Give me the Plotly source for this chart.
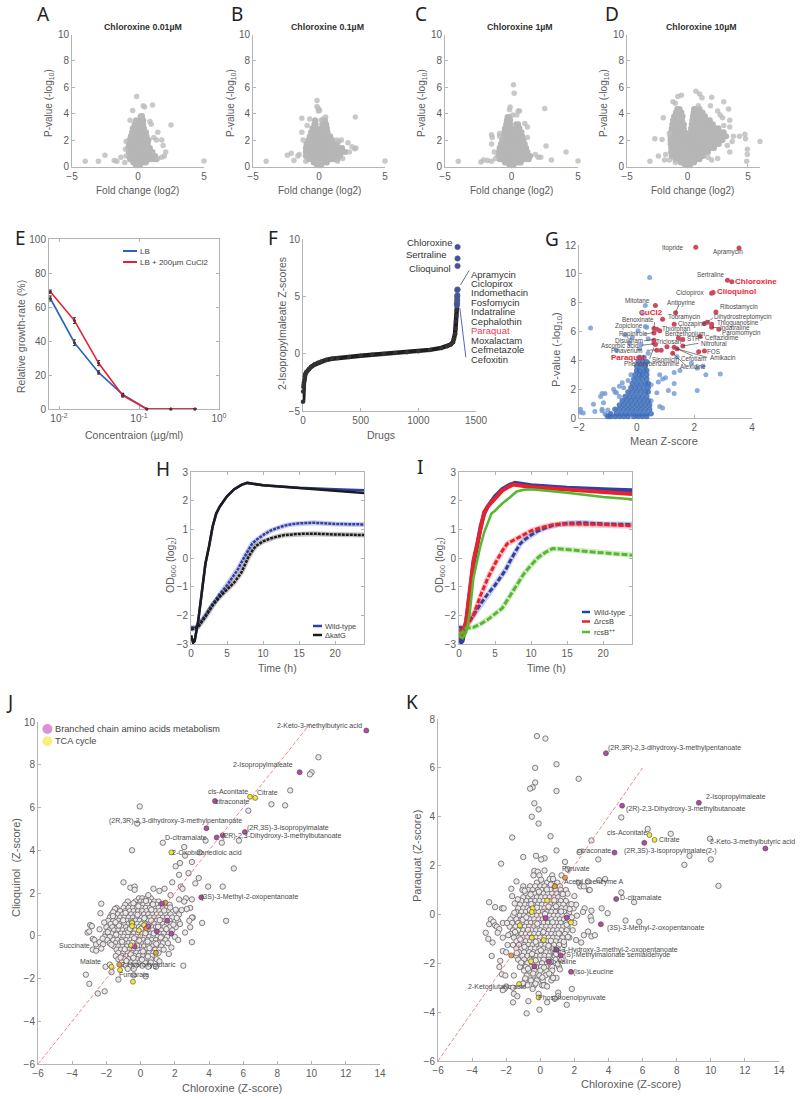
import plotly.graph_objects as go

W, H = 800, 1099
FONT = "Liberation Sans"
AX = "#b4b4b4"
TX = "#5c5c5c"

# ---------- volcano panels: outliers and dense core (row level, fold changes) ----------
A_out = [(-4,.4),(-3,.4),(-2.5,.85),(-1.8,.45),(-1.6,.4),(-1.3,.7),(-1,.3),(5,.42),(2.5,3.15),(1.1,4.65),(.4,4.6),(.5,4.5),(-.1,5.3),(-.4,4.25),(.3,3.85),(-.6,3.5),(2,.8),(2.1,1.1),(1.9,1.6),(1.8,2),(1.5,2.6),(1.4,2),(1.2,2.2),(1,3.2),(.9,3.4),(1.8,.7),(1.5,.6),(-.9,1.9),(-.95,1.3),(-.9,.8)]
A_core = [(.1,[-.15,0,.15]),(.3,[-.35,-.2,0,.2,.4,.6]),(.55,[-.6,-.45,-.3,-.15,0,.15,.3,.45,.6,.8,1,1.2,1.4]),(.8,[-.7,-.5,-.3,-.15,0,.15,.3,.5,.7,.9,1.1,1.3]),(1.1,[-.7,-.5,-.3,-.1,.1,.3,.5,.7,.9,1.1]),(1.4,[-.75,-.5,-.3,-.1,.1,.3,.5,.7,.9]),(1.7,[-.7,-.45,-.25,-.05,.15,.35,.55,.75]),(2,[-.65,-.4,-.2,0,.2,.4,.6,.8]),(2.3,[-.55,-.35,-.15,.15,.3,.5,.65]),(2.6,[-.45,-.3,-.15,.15,.3,.5,.6]),(2.9,[-.4,-.25,-.12,.15,.3,.45]),(3.2,[-.25,-.15,.2,.3,.4]),(3.5,[-.15,.2,.3,.4]),(3.8,[.2,.3])]
B_out = [(-4,.4),(5,.42),(-2.4,.85),(-2.1,1),(-1.9,.45),(-1.6,.8),(-1.5,.9),(-1.3,3.65),(-1.3,2.6),(-1,.4),(-.9,3.1),(-.7,3.6),(-.15,5),(-.15,4.55),(-.05,4.4),(-.05,4.2),(.05,4.25),(2.75,3.75),(.5,3.75),(.3,3.6),(.15,3.5),(1.35,2),(1.5,1.9),(1.7,2),(2.2,1.8),(2.5,1.5),(2.8,1.4),(2.7,1.35),(2.3,1.1),(1.8,.6),(1.4,.4),(-1.2,2)]
B_core = [(.1,[-.15,0,.15]),(.3,[-.4,-.2,0,.2,.4,.6]),(.55,[-.8,-.6,-.4,-.2,0,.2,.4,.6,.8,1,1.2,1.4]),(.8,[-1,-.8,-.55,-.3,-.1,.1,.3,.55,.8,1,1.2,1.4,1.6]),(1.1,[-1,-.8,-.55,-.3,-.1,.1,.3,.55,.8,1,1.2,1.4,1.6,1.8,2]),(1.4,[-1,-.8,-.55,-.3,-.1,.1,.3,.55,.8,1,1.2,1.4,1.6,1.75]),(1.7,[-.95,-.75,-.5,-.3,-.1,.1,.3,.5,.75,1,1.2,1.35]),(2,[-.8,-.6,-.4,-.2,0,.2,.4,.6,.8,1]),(2.3,[-.7,-.5,-.3,-.12,.15,.3,.5,.7,.85]),(2.6,[-.6,-.45,-.25,-.12,.15,.3,.5,.65]),(2.9,[-.5,-.35,-.2,.2,.35,.5,.6]),(3.2,[-.35,-.25,.25,.4,.55]),(3.5,[-.3,.35,.45])]
C_out = [(-4,.4),(-2.3,.35),(-2.1,.5),(-1.8,.45),(-1.5,.4),(-1.5,2.4),(-1.45,2.2),(-1.5,1.7),(-1.3,1.1),(-.9,2.5),(-.9,2.3),(-.1,4.5),(-.15,4.3),(.15,6.2),(.2,5.55),(.1,3.9),(.5,4.2),(.6,4.2),(.4,3.9),(1,3.25),(1.2,3),(2.5,4.4),(2.6,1.55),(3,.5),(4.1,1.1),(5,.42),(2,.7),(2.2,.7),(1.8,.9),(1.2,2.2),(-1.2,.6)]
C_core = [(.1,[-.15,0,.15]),(.3,[-.5,-.3,-.1,.1,.3,.5,.7]),(.55,[-.9,-.7,-.5,-.3,-.1,.1,.3,.5,.7,.9,1.1,1.3]),(.8,[-1,-.8,-.55,-.3,-.1,.1,.3,.55,.8,1,1.2,1.4]),(1.1,[-.95,-.75,-.55,-.3,-.1,.1,.3,.55,.8,1,1.2]),(1.4,[-.9,-.7,-.5,-.3,-.1,.1,.3,.5,.7,.9,1.1]),(1.7,[-.8,-.6,-.4,-.2,0,.2,.4,.6,.8,1]),(2,[-.7,-.5,-.3,-.1,.1,.3,.5,.7,.9]),(2.3,[-.6,-.45,-.25,-.1,.2,.4,.6,.8]),(2.6,[-.55,-.4,-.25,-.1,.25,.4,.6,.75]),(2.9,[-.5,-.35,-.2,-.05,.3,.45,.6]),(3.2,[-.4,-.25,-.1,.35,.5]),(3.5,[-.35,-.2,-.1]),(3.75,[-.3,-.15])]
D_out = [(-3.1,.4),(-2.4,.8),(-2.7,2.1),(-2.1,2.05),(-2,3.7),(-1.9,.5),(-1.2,4.9),(-1,4.8),(-.5,5.4),(-.8,5.3),(-1.5,2.5),(.7,5.7),(1,5.5),(1.2,5.2),(2,5.25),(3,4.9),(3.4,4.35),(3.5,3.5),(2.9,3.7),(.9,4.6),(1.9,4.6),(2.5,4.2),(2.7,3.9),(4.75,2.45),(4.3,2.3),(4.8,2.1),(4.95,1.3),(4.95,.9),(4.9,.4),(6,1.9),(3,3.1),(3.5,3),(3.8,2.3),(3.7,1.9),(3.3,1.6),(3.5,1.1),(2.5,.6),(1.7,.7),(2,.5),(-1.8,.9),(-1.5,.5),(-1,.3)]
D_core = [(.1,[-.2,0,.2]),(.3,[-.55,-.3,-.1,.1,.3,.55]),(.55,[-1,-.75,-.5,-.3,-.1,.1,.3,.5,.75,1]),(.8,[-1.3,-1,-.75,-.5,-.25,0,.25,.5,.75,1,1.3]),(1.1,[-1.35,-1.05,-.8,-.55,-.3,-.05,.2,.45,.7,.95,1.2,1.45,1.7]),(1.4,[-1.35,-1.05,-.8,-.55,-.3,-.05,.2,.45,.7,.95,1.2,1.45,1.7,1.95,2.2]),(1.7,[-1.4,-1.1,-.85,-.6,-.35,-.1,.15,.4,.65,.9,1.15,1.4,1.65,1.9,2.15,2.4,2.6]),(2,[-1.4,-1.1,-.85,-.6,-.35,-.1,.15,.4,.65,.9,1.15,1.4,1.65,1.9,2.15,2.4,2.65,2.9]),(2.3,[-1.4,-1.1,-.85,-.6,-.35,-.15,.2,.45,.7,.95,1.2,1.45,1.7,1.95,2.2,2.45,2.7,2.95,3.2]),(2.6,[-1.35,-1.1,-.85,-.6,-.35,-.2,.25,.5,.75,1,1.25,1.5,1.75,2,2.25,2.5,2.75,3]),(2.9,[-1.3,-1.05,-.8,-.55,-.3,.3,.55,.8,1.05,1.3,1.55,1.8,2.05,2.3,2.55]),(3.2,[-1.25,-1,-.75,-.5,-.3,.35,.6,.85,1.1,1.35,1.6,1.85,2.1]),(3.5,[-1.2,-.95,-.7,-.45,.4,.65,.9,1.15,1.4,1.65,1.85]),(3.8,[-1.1,-.85,-.6,-.4,.45,.7,.95,1.2,1.45]),(4.1,[-.95,-.7,-.5,.5,.75,1,1.25]),(4.35,[-.85,-.65,.55,.8,1])]
vol_titles = ["Chloroxine 0.01µM", "Chloroxine 0.1µM", "Chloroxine 1µM", "Chloroxine 10µM"]

# ---------- E ----------
E_conc = [0.0078, 0.0156, 0.03125, 0.0625, 0.125, 0.25, 0.5]
E_lb = [65, 39, 21.5, 8.5, 0, 0, 0]
E_lb_err = [1.5, 1.7, 1, .8, 0, 0, 0]
E_cu = [69, 52, 27, 8, 0, 0, 0]
E_cu_err = [1, 1.7, 1.5, 1, 0, 0, 0]

# ---------- F ----------
F_rank = [0,1,3,5,8,12,15,20,30,50,70,100,130,160,200,250,300,400,500,600,700,800,900,1000,1100,1200,1250,1280,1300,1310,1318,1322,1326,1330,1333,1335]
F_z = [-4.2,-3.3,-2.9,-2.7,-2.5,-2.3,-2,-1.8,-1.6,-1.35,-1.15,-.95,-.8,-.68,-.55,-.45,-.38,-.28,-.18,-.1,-.02,.05,.12,.22,.33,.5,.65,.8,1,1.3,1.7,2.2,2.8,3.3,3.8,4.1]
F_top_rank = [1340,1340,1340,1340,1338,1338,1337,1337,1336,1335,1335]
F_top_z = [9.3,8.3,7.65,5.6,5.55,5.1,4.95,4.7,4.5,4.35,4.25]
F_left = [("Chloroxine",1305,9.72),("Sertraline",1270,8.62),("Clioquinol",1297,7.46)]
F_list = ["Apramycin","Ciclopirox","Indomethacin","Fosfomycin","Indatraline","Cephalothin","Paraquat","Moxalactam","Cefmetazole","Cefoxitin"]
F_list_y = [6.94,6.13,5.31,4.47,3.65,2.84,2.02,1.17,.36,-.49]

# ---------- G ----------
G_red = [(2.05,11.85),(3.55,11.8),(3.15,9.55),(3.3,9.45),(2.6,8.65),(2.65,8.7),(.65,7.8),(1.35,7.3),(2.75,7.35),(.9,6.85),(1.3,6.5),(2.35,6.55),(2.45,6.65),(2.6,6.5),(2.6,6.3),(2.85,6.15),(.6,6.2),(.7,6.15),(.8,6.05),(.6,5.9),(1.45,5.55),(1.6,5.45),(2.2,5.65),(.6,5.4),(.6,5.2),(.65,5.1),(1.05,4.95),(1.6,5),(1.3,4.9),(1.4,4.8),(.7,4.7),(.85,4.7),(1.25,4.5),(2.15,4.6),(2.35,4.65)]
G_blue = [(.45,9.75),(-1.6,6.25),(.3,7.8),(.2,7.25),(.3,6.35),(.35,6.3),(.05,6.05),(-.4,5.75),(-.15,5.6),(.4,5.5),(-.25,5.2),(.15,5.1),(-.7,4.7),(.1,4.8),(.4,4.5),(1.4,4.25),(1.9,3.8),(2.3,3.6),(1.5,3.3),(1.3,3.15),(.8,3),(2.1,3.45),(2.4,3),(2.9,3.05),(1,2.8),(.9,2.7),(.75,2.5),(.5,2.3),(1.3,2.4),(1.1,1.9),(2.1,1.9),(1.3,1.7),(.7,1.75),(.5,1.2),(.8,.8),(.9,.7),(-1.95,.6),(-1.95,.4),(-1.85,.35),(-1.5,.95),(-1.45,.45),(-1.2,1.7),(-1.25,1.5),(-1.1,1.7),(-1.2,.6),(-1.2,.5),(-1.1,.3),(-1.05,.2),(-1,.55),(-1.15,1.05),(-.75,1.8),(-.7,1.75),(-.8,2),(-.6,1.5),(-.5,2.45),(-.3,2.6),(-.2,3),(-.45,2.1),(-.6,2.2)]
G_core = [(.1,[-1,-.9,-.75,-.6,-.45,-.3,-.1,.05,.2,.35]),(.3,[-.9,-.7,-.55,-.4,-.25,-.1,.05,.2,.35,.5]),(.6,[-.75,-.6,-.45,-.3,-.15,0,.15,.3,.45]),(.9,[-.6,-.45,-.3,-.15,0,.15,.3,.45]),(1.2,[-.5,-.35,-.2,-.05,.1,.25,.4]),(1.5,[-.4,-.25,-.1,.05,.2,.35]),(1.8,[-.3,-.15,0,.15,.3,.4]),(2.1,[-.2,-.05,.1,.25,.4]),(2.4,[-.15,0,.15,.3,.4]),(2.7,[-.1,.05,.2,.35]),(3,[-.05,.1,.2,.35]),(3.3,[0,.1,.25,.35]),(3.6,[0,.15,.3]),(3.9,[.05,.2,.35]),(4.2,[.1,.25])]
G_labels = [("Itopride",1.72,11.77,"right"),("Apramycin",3.16,11.51,"center"),("Sertraline",2.55,9.97,"center"),("Ciclopirox",2.4,8.67,"right"),("Mitotane",.53,8.14,"right"),("Antipyrine",1.53,7.98,"center"),("Ribostamycin",2.83,7.68,"left"),("Dihydrostreptomycin",2.62,7,"left"),("Tobramycin",1.66,7,"center"),("Benoxinate",.67,6.8,"right"),("Thioguanosine",2.7,6.59,"left"),("Clozapine",1.38,6.52,"left"),("Zopiclone",.28,6.4,"right"),("Indatraline",2.82,6.27,"left"),("Thiorphan",.8,6.17,"left"),("Paromomycin",2.9,5.9,"left"),("Ropinirole",.45,5.8,"right"),("Benzethonium",1.68,5.85,"center"),("Ceftazidime",2.3,5.55,"left"),("STR",1.69,5.48,"left"),("Disulfiram",.3,5.41,"right"),("Triclosan",1.11,5.34,"center"),("Nitrofural",2.16,5.18,"left"),("Ascorbic acid",.15,5.04,"right"),("Pinaverium",.28,4.69,"right"),("FOS",2.38,4.62,"left"),("Amikacin",2.46,4.18,"left"),("Sisomicin",1,4.09,"center"),("Cefotiam",1.98,4.16,"center"),("Phenoxybenzamine",.53,3.75,"center"),("Alexidine",1.95,3.54,"center")]
G_bold = [("Chloroxine",3.34,9.46,"left"),("Clioquinol",2.7,8.74,"left"),("CuCl2",.51,7.33,"center"),("Paraquat",.38,4.23,"right")]
G_leaders = [(1.35,7.3,1.45,7.8),(.6,6.2,.62,6.65),(.3,5.8,.6,5.95),(.25,5.35,.6,5.45),(.18,5.05,.62,5.15),(.35,4.7,.68,4.72),(1.6,5,2.14,5.18),(1.3,4.9,1.95,4.3),(1.4,4.8,2.45,4.2),(1.25,4.5,1.7,3.65),(2.2,5.65,2.3,5.55),(2.45,6.65,2.65,6.95),(2.6,6.3,2.8,6.27),(.6,4.9,.45,4.1)]

# ---------- H / I ----------
T_high = [0,.3,.5,1,1.5,2,2.5,3,3.5,4,5,6,7,7.8,10,15,20,24]
WT_high = [-2.7,-2.95,-2.9,-2.2,-1.2,-.2,.4,1.1,1.55,1.8,2.15,2.4,2.55,2.62,2.54,2.45,2.4,2.36]
KAT_high = [-2.7,-2.95,-2.9,-2.2,-1.2,-.2,.4,1.1,1.55,1.8,2.15,2.4,2.55,2.62,2.54,2.45,2.36,2.27]
T_wt_low = [0,.5,1,2,3,4,5,6,6.5,7,7.5,8,8.5,9,10,11,12,13,14,15,17,20,24]
WT_low = [-2.4,-2.45,-2.35,-2,-1.6,-1.25,-.95,-.6,-.4,-.15,.1,.3,.5,.62,.8,.95,1.05,1.13,1.18,1.21,1.23,1.19,1.17]
T_kat_low = [0,.5,1,2,3,4,5,6,7,7.5,8,8.5,9,10,11,12,13,15,17,20,24]
KAT_low = [-2.5,-2.45,-2.4,-2.05,-1.65,-1.35,-1.1,-.85,-.5,-.2,.05,.25,.42,.58,.68,.75,.8,.84,.85,.82,.8]
T_red_high = [0,.3,1,1.5,2,2.5,3,3.5,4,5,6,7,7.5,10,15,20,24]
RCS_high = [-2.6,-2.8,-2.2,-1,-.1,.45,1.1,1.6,1.8,2.1,2.35,2.5,2.56,2.48,2.38,2.28,2.23]
T_green_high = [0,.5,1,1.5,2,2.5,3,3.5,4.5,5,6,7,8,9,10,15,20,24]
OVER_high = [-2.7,-2.8,-2.6,-1.9,-.7,-.1,.45,.9,1.55,1.65,1.9,2.1,2.32,2.38,2.4,2.28,2.13,2.05]
T_red_low = [0,.5,1,2,3,4,5,6,6.7,8,9,10,11,13,15,20,24]
RCS_low = [-2.55,-2.5,-2.4,-2,-1.3,-.7,-.2,.25,.5,.67,.82,.95,1.03,1.16,1.19,1.17,1.12]
T_green_low = [0,.5,1,2,3,4,5,6,7,8,9,10,11,12,13,15,18,24]
OVER_low = [-2.65,-2.6,-2.45,-2.42,-2.3,-2.15,-1.95,-1.75,-1.35,-.95,-.55,-.25,.02,.2,.33,.3,.22,.1]

# ---------- J ----------
J_open = [(10.4,8.35),(10,7.65),(9.9,7.55),(8.75,6.8),(7.65,6.15),(8.45,6.1),(6.3,5.85),(-.05,6.05),(-.2,5.25),(3.8,4.45),(4.75,4.35),(5.75,4.45),(1.3,4.35),(-.5,4),(2.55,4.15),(2.6,3.75),(3.45,3.9),(2.05,3.25),(2.3,3.4),(3,3.45),(5.45,3.15),(2.25,2.85),(2.8,2.93),(3.4,2.7),(1.85,2.5),(3.2,2.45),(2.35,2.3),(2.45,2.2),(3.95,2.3),(4.8,2.3),(-1,2.5),(-.6,2.25),(-.35,2.3),(-.35,2.15),(.75,2.2),(1.1,2.1),(1.4,2.2),(.45,1.9),(1.75,1.9),(2.25,1.7),(2.65,1.75),(3,1.7),(2.55,1.6),(-2.3,1.5),(-2.35,1.05),(-1.5,1.25),(-1.6,1.1),(-2.4,.3),(-2.95,.5),(-2.85,.45),(-3.1,.15),(-3,.2),(-2.8,-.15),(-2.7,-.2),(-2.6,-.4),(-2.4,-.3),(-2.2,-.4),(-2.8,-.65),(-2.6,-.7),(-2.3,-.6),(2.9,1.3),(2.7,1.25),(2.4,1.2),(3.05,.85),(3,.85),(2.85,.7),(2.9,.4),(3.6,.6),(5,.7),(2.6,.15),(3,-.3),(2.2,-.2),(2.5,-1.4),(1.65,-.85),(1.8,-.55),(-2.05,-1.45),(-1.8,-1.35),(-3.2,-1.82),(-3,-2.25),(-2.5,-2.7),(-2.1,-2.6),(-1.3,-2.05),(-1.7,-1.7),(-.4,-1.85),(.3,-1.9),(.9,-1.45),(.45,-1.45),(1.1,-1.2)]
J_mass = [(1.75,[-.1,.1,.35,.6]),(1.6,[-.75,-.3,0,.2,.5,.8,1.05]),(1.45,[-.9,-.55,-.3,-.1,.15,.4,.7,.95,1.2,1.7]),(1.3,[-1.4,-1,-.7,-.45,-.2,.05,.3,.55,.8,1.05,1.3,1.55]),(1.15,[-1.55,-1.2,-.9,-.65,-.4,-.15,.1,.35,.6,.85,1.1,1.35,1.6,2.1]),(1,[-1.7,-1.35,-1.05,-.8,-.55,-.3,-.05,.2,.45,.7,.95,1.2,1.45,1.75,2.25]),(.85,[-1.8,-1.5,-1.2,-.95,-.7,-.45,-.2,.05,.3,.55,.8,1.05,1.3,1.55,1.85]),(.7,[-1.9,-1.6,-1.3,-1.05,-.8,-.55,-.3,-.05,.2,.45,.7,.95,1.2,1.45,1.7,2.2]),(.55,[-1.75,-1.45,-1.2,-.95,-.7,-.45,-.2,.05,.3,.55,.8,1.05,1.3,1.55,1.8,2.3]),(.4,[-2,-1.65,-1.35,-1.1,-.85,-.6,-.35,-.1,.15,.4,.65,.9,1.15,1.4,1.7,2.05]),(.25,[-1.85,-1.55,-1.3,-1.05,-.8,-.55,-.3,-.05,.2,.45,.7,.95,1.2,1.5,1.85]),(.1,[-2.05,-1.7,-1.4,-1.15,-.9,-.65,-.4,-.15,.1,.35,.6,.85,1.1,1.35,1.65]),(-.05,[-2.1,-1.8,-1.5,-1.25,-1,-.75,-.5,-.25,0,.25,.5,.75,1,1.25,1.55,2]),(-.2,[-1.95,-1.6,-1.35,-1.1,-.85,-.6,-.35,-.1,.15,.4,.65,.9,1.15,1.45]),(-.35,[-1.8,-1.45,-1.2,-.95,-.7,-.45,-.2,.05,.3,.55,.8,1.05,1.3,1.6]),(-.5,[-1.55,-1.3,-1.05,-.8,-.55,-.3,-.05,.2,.45,.7,.95,1.2]),(-.65,[-1.4,-1.15,-.9,-.65,-.4,-.15,.1,.35,.6,.85,1.1,1.35]),(-.8,[-1.3,-1,-.75,-.5,-.25,0,.25,.5,.75,1.05]),(-.95,[-1.45,-1.1,-.85,-.6,-.35,-.1,.15,.4,.65]),(-1.1,[-1.3,-.95,-.7,-.45,-.2,.05,.3,.6,.95]),(-1.25,[-1.1,-.8,-.55,-.3,-.05,.25,.6]),(-1.4,[-.85,-.6,-.3,.1,.5]),(-1.55,[-.75,-.4])]
J_over = [(-1.62,.92),(-1.27,.48),(-.88,1.07),(-.52,.63),(-.13,1.38),(.22,.82),(.63,1.22),(1.12,.73),(1.38,1.18),(-1.43,.05),(-1.08,-.28),(-.72,.18),(-.37,-.12),(.03,.33),(.41,-.27),(.77,.11),(1.18,-.08),(1.51,.31),(-.93,-.63),(-.58,-.87),(-.21,-.46),(.14,-.73),(.52,-.58),(.92,-.38),(-1.17,-1.02),(-.83,-1.18),(-.42,-1.03),(.08,-1.12),(.43,-.97),(-2.13,.62),(-1.92,.17),(-2.22,-.13),(-1.71,-.42),(1.92,.52),(2.11,.83),(1.73,1.32),(2.05,1.22),(.31,1.63),(-.42,1.52),(.72,1.47),(-.18,.98),(.47,.52),(-.63,.32),(-1.02,.72),(-1.47,.63),(1.02,.42),(-.08,-.22),(.28,.12),(-.48,-.33),(.62,.71)]
J_purple = [(13.2,9.6),(9.3,7.65),(4.35,6.3),(3.85,5.03),(6.1,4.85),(4.8,4.7),(4.45,4.6),(3.55,1.8),(1.25,1.5),(1.55,.7),(.95,.2),(1.8,.1),(.45,.45),(-.35,-.5)]
J_yellow = [(6.4,6.5),(6.7,6.45),(1.8,3.9),(-.5,.6),(-.5,.45),(.2,.5),(-.1,.25),(-.55,-.45),(-1.7,-1.45),(-1.2,-1.6),(-.45,-2.15)]
J_orange = [(1.45,1.55),(.35,.35),(.9,-.8),(-1.25,-1.35)]
J_labels = [("2-Keto-3-methylbutyric acid",10.45,9.83),("2-Isopropylmaleate",7.13,7.99),("cis-Aconitate",5.1,6.75),("Citrate",7.4,6.72),("citraconate",5.32,6.28),("(2R,3R)-2,3-dihydroxy-3-methylpentanoate",2.06,5.38),("(2R,3S)-3-isopropylmalate",8.61,5.05),("D-citramalate",2.64,4.61),("(2R)-2,3-Dihydroxy-3-methylbutanoate",8.24,4.66),("2-Oxobutanedioic acid",3.89,3.91),("(3S)-3-Methyl-2-oxopentanoate",6.39,1.8),("Succinate",-3.85,-.44),("Malate",-2.94,-1.22),("2-Hydroxyglutaric",.44,-1.36),("Fumarate",-.38,-1.83)]

# ---------- K ----------
K_open = [(-.2,7.3),(.3,7.2),(.95,6.15),(-.3,6),(2.25,5.55),(-.3,5.4),(-.45,5.2),(-.6,5.15),(.95,5.05),(-.35,4.55),(-.1,4.3),(-.5,4),(-.1,3.72),(4.75,3.97),(6.3,3.5),(7.65,3.3),(9.95,3.1),(-1.65,3.15),(.6,3.2),(3,3.03),(.95,2.62),(2.3,2.55),(8.75,2.4),(10,2.25),(8.45,2.03),(10.45,1.17),(-1,2.35),(-.25,2.4),(.25,2.3),(.05,2.25),(-2.3,2.08),(3.4,2.25),(1.45,2.15),(1.6,1.85),(.25,1.8),(-.35,1.78),(-.15,1.75),(-.4,1.6),(-.05,1.6),(.7,1.6),(-1.4,1.35),(1.25,1.6),(.55,1.45),(.75,1.45),(-1.7,1.05),(3.45,1.4),(3.8,1.45),(2.8,1.35),(2.25,1.3),(2.35,1.15),(2.55,1.15),(2.85,1),(2.9,1),(4.75,.9),(5.5,.5),(3.6,.25),(3.95,.05),(-1.65,.75),(-1.5,.45),(-3,.5),(-2.65,.3),(-2.25,.25),(-2.15,.25),(2,.75),(2.1,.4),(2.6,.25),(2.5,.1),(3,.15),(2.95,-.1),(3,-.25),(5,-.25),(5.8,-.3),(2.8,-.7),(3,-.9),(3.2,-.85),(2.55,-.85),(2.1,-1.05),(2.4,-1.15),(-2.9,-.2),(-3,-.4),(-2.75,-.3),(-2.65,-.45),(-2.55,-.5),(-2.4,-.6),(-2.5,-.75),(-3.2,-.75),(-3.05,-1),(-2.8,-1.15),(-2.2,-.35),(-2.2,-.95),(-2.2,-1.5),(-2,-1.55),(-2.85,-1.7),(-2.35,-1.9),(-2.4,-2.15),(-2.25,-2.45),(-2.05,-2.5),(-1.55,-2.5),(-2,-2.95),(-2.1,-3.05),(-2.2,-3.1),(-1.6,-3),(-1.55,-3.25),(-1.35,-3.35),(-1.6,-3.6),(-.7,-3.55),(-.8,-4.05),(-.05,-3.9),(.4,-3.6),(1.55,-3.7),(1.85,-3.05),(-.45,-3.05),(-.1,-3.25),(1.05,-3.2),(1.05,-3.35),(.85,-3.45),(.2,-2.9),(.4,-2.95),(.95,-2.6),(.75,-2.6),(1.15,-2.25)]
K_mass = [(1.3,[-.2,.1,.4,.7,1]),(1.15,[-1,-.6,-.3,0,.25,.55,.85,1.15]),(1,[-1.05,-.7,-.45,-.15,.1,.35,.6,.9,1.2,1.5]),(.85,[-.85,-.55,-.3,-.05,.2,.45,.7,.95,1.25,1.6]),(.7,[-1,-.7,-.45,-.2,.05,.3,.55,.8,1.05,1.3]),(.55,[-1.1,-.8,-.55,-.3,-.05,.2,.45,.7,.95,1.2,1.5]),(.4,[-1.2,-.9,-.65,-.4,-.15,.1,.35,.6,.85,1.1,1.35,1.7]),(.25,[-1.3,-1,-.75,-.5,-.25,0,.25,.5,.75,1,1.25,1.5,1.95]),(.1,[-1.4,-1.1,-.85,-.6,-.35,-.1,.15,.4,.65,.9,1.15,1.4,1.7]),(-.05,[-1.6,-1.2,-.95,-.7,-.45,-.2,.05,.3,.55,.8,1.05,1.3,1.55,2.15]),(-.2,[-1.75,-1.4,-1.1,-.85,-.6,-.35,-.1,.15,.4,.65,.9,1.15,1.4,1.65]),(-.35,[-1.65,-1.3,-1.05,-.8,-.55,-.3,-.05,.2,.45,.7,.95,1.2,1.5,2]),(-.5,[-1.8,-1.45,-1.15,-.9,-.65,-.4,-.15,.1,.35,.6,.85,1.1,1.35,1.6]),(-.65,[-1.6,-1.3,-1,-.75,-.5,-.25,0,.25,.5,.75,1,1.25,1.55,1.9]),(-.8,[-1.75,-1.4,-1.1,-.85,-.6,-.35,-.1,.15,.4,.65,.9,1.15,1.45]),(-.95,[-1.55,-1.25,-1,-.75,-.5,-.25,0,.25,.5,.75,1,1.3,1.7]),(-1.1,[-1.4,-1.1,-.85,-.6,-.35,-.1,.15,.4,.65,.9,1.2]),(-1.25,[-1.6,-1.25,-.95,-.7,-.45,-.2,.05,.3,.55,.8,1.1,1.4]),(-1.4,[-1.4,-1.1,-.8,-.55,-.3,-.05,.2,.45,.7,1]),(-1.55,[-1.25,-.95,-.65,-.4,-.15,.1,.35,.6,.9,1.3]),(-1.7,[-1.4,-1.05,-.75,-.5,-.25,0,.25,.5,.85]),(-1.85,[-1.3,-.95,-.6,-.35,-.1,.2,.5,.9,1.25]),(-2,[-1.05,-.75,-.45,-.2,.1,.4,.8]),(-2.15,[-1.2,-.85,-.55,-.25,.05,.35,.7,1.1]),(-2.3,[-.95,-.65,-.35,0,.35,.7]),(-2.5,[-.8,-.4,-.05,.3,.65]),(-2.7,[-.9,-.55,-.2,.15,.65]),(-2.9,[-1.1,-.75,-.35,.1,.3])]
K_over = [(-1.32,.62),(-.92,.97),(-.53,.42),(-.08,.93),(.38,1.02),(.82,.58),(1.32,.83),(-1.52,.07),(-1.03,-.22),(-.62,.18),(-.17,-.38),(.28,.02),(.72,-.32),(1.22,.12),(1.72,.22),(-1.48,-.72),(-1.17,-1.02),(-.72,-.63),(-.27,-1.12),(.18,-.72),(.62,-1.08),(1.08,-.78),(1.55,-.42),(-1.38,-1.58),(-.93,-1.33),(-.48,-1.62),(.03,-1.47),(.48,-1.28),(.93,-1.62),(1.38,-1.12),(-1.12,-1.97),(-.72,-2.22),(-.27,-1.88),(.22,-2.17),(.62,-1.93),(1.02,-2.02),(-.88,-2.62),(-.42,-2.42),(.12,-2.58),(.52,-2.42),(-1.02,-2.83),(-.28,-2.83),(-.57,.82),(.05,1.42),(.62,1.22),(-.2,.28),(.48,.32),(-.82,-.12),(.92,.33),(1.62,-.92),(-1.95,-.35),(-1.88,-.85),(-1.92,-1.25),(1.82,.42),(1.85,-.12)]
K_purple = [(3.85,6.6),(4.8,4.45),(9.3,4.57),(6.1,2.93),(4.35,2.53),(13.2,2.7),(4.45,.63),(3.55,-.4),(1.55,-.13),(.3,-.15),(.95,-1.45),(1.2,-1.68),(.5,-1.93),(-.35,-2.13),(1.8,-2.35)]
K_yellow = [(6.4,3.25),(6.7,3.05),(.4,.57),(-.45,.25),(-.5,.1),(1.8,-.33),(-1.2,-.45),(-.5,-.95),(.2,-1.05),(-.55,-1.92),(-1.25,-2.85),(-.1,-3.4)]
K_orange = [(1.45,1.5),(.85,1.15),(-1.7,-1.68)]
K_labels = [("(2R,3R)-2,3-dihydroxy-3-methylpentanoate",7.87,6.8),("2-Isopropylmaleate",11.46,4.81),("(2R)-2,3-Dihydroxy-3-methylbutanoate",8.57,4.31),("cis-Aconitate",5.07,3.35),("Citrate",7.59,3.08),("2-Keto-3-methylbutyric acid",12.46,2.97),("citraconate",3.12,2.63),("(2R,3S)-3-isopropylmalate(2-)",7.61,2.6),("Pyruvate",2.07,1.86),("Acetyl coenzyme A",3.12,1.31),("D-citramalate",5.88,.71),("(3S)-3-Methyl-2-oxopentanoate",6.73,-.56),("(S)-3-Hydroxy-3-methyl-2-oxopentanoate",4.3,-1.46),("(S)-Methylmalonate semialdehyde",4.49,-1.68),("L-Valine",1.36,-1.94),("(iso-)Leucine",3.12,-2.36),("2-Ketoglutaric acid",-2.54,-2.97),("Phosphoenolpyruvate",1.87,-3.42)]

# ---------- helpers ----------
def expand(rows):
    return [(x, y) for y, xs in rows for x in xs]

fig = go.Figure()
layout = dict(width=W, height=H, margin=dict(l=0, r=0, t=0, b=0, pad=0, autoexpand=False), autosize=False,
              paper_bgcolor="white", plot_bgcolor="white", showlegend=False,
              font=dict(family=FONT, color=TX))
anns, shapes = [], []

def axes(n, px, py, xr, yr, xt=None, yt=None, box=False, xtype="linear", xtext=None):
    common = dict(showline=True, linecolor=AX, linewidth=1, ticks="inside", ticklen=3, tickcolor=AX,
                  showgrid=False, zeroline=False, tickfont=dict(size=10, color=TX, family=FONT),
                  mirror="ticks" if box else False, layer="below traces")
    sx = "" if n == 1 else str(n)
    layout["xaxis" + sx] = dict(common, domain=[px[0] / W, px[1] / W], range=xr, anchor="y" + sx, tickvals=xt, type=xtype,
                                **({"ticktext": xtext} if xtext else {}))
    layout["yaxis" + sx] = dict(common, domain=[1 - py[1] / H, 1 - py[0] / H], range=yr, anchor="x" + sx, tickvals=yt)
    return "x" + sx, "y" + sx

def ptext(text, x, y, size=10.5, angle=0, color=TX, bold=False, family=FONT, anchor="center"):
    if bold:
        text = "<b>" + text + "</b>"
    anns.append(dict(text=text, xref="paper", yref="paper", x=x / W, y=1 - y / H, showarrow=False, textangle=angle,
                     xanchor=anchor, yanchor="middle", font=dict(size=size, color=color, family=family)))

def dtext(text, xa, ya, x, y, size=7, color=TX, anchor="center", bold=False):
    if bold:
        text = "<b>" + text + "</b>"
    anns.append(dict(text=text, xref=xa, yref=ya, x=x, y=y, showarrow=False, xanchor=anchor, yanchor="middle",
                     font=dict(size=size, color=color, family=FONT)))

def seg(xref, yref, x0, y0, x1, y1, color, width=1, dash="solid"):
    shapes.append(dict(type="line", xref=xref, yref=yref, x0=x0, y0=y0, x1=x1, y1=y1, line=dict(color=color, width=width, dash=dash)))

def dots(pts, xa, ya, color, size, opacity=1.0, lc=None, lw=0):
    fig.add_trace(go.Scatter(x=[p[0] for p in pts], y=[p[1] for p in pts], xaxis=xa, yaxis=ya, mode="markers", cliponaxis=False,
                             marker=dict(color=color, size=size, opacity=opacity, line=dict(color=lc or color, width=lw))))

def curve(t, v, xa, ya, color, width, dash="solid", halo=False):
    if halo:
        fig.add_trace(go.Scatter(x=t, y=v, xaxis=xa, yaxis=ya, mode="lines", cliponaxis=False, opacity=.25,
                                 line=dict(color=color, width=width + 2.5)))
    fig.add_trace(go.Scatter(x=t, y=v, xaxis=xa, yaxis=ya, mode="lines", cliponaxis=False, line=dict(color=color, width=width, dash=dash)))

# ---------- A-D ----------
vols = [(A_out, A_core, (72, 204), [-5, 5], 143, 137, 49, "A", 43),
        (B_out, B_core, (253, 385), [-5, 5], 327, 319, 231, "B", 237),
        (C_out, C_core, (445, 578), [-5, 5], 520, 511, 422, "C", 421),
        (D_out, D_core, (627, 760), [-5, 6], 701, 692, 604, "D", 612)]
for i, (o, c, px, xr, tx, xtx, ytx, let, lx) in enumerate(vols):
    xa, ya = axes(i + 1, px, (34.5, 166.5), xr, [0, 10], [-5, 0, 5], [0, 2, 4, 6, 8, 10])
    dots(expand(c), xa, ya, "#b6b6b6", 6)
    dots(o, xa, ya, "#bcbcbc", 5.5, .8)
    ptext(vol_titles[i], tx, 27, 8.8, color="#333333", bold=True)
    ptext("Fold change (log2)", xtx, 190, 10)
    ptext("P-value (-log<sub>10</sub>)", ytx, 103, 10, angle=-90)
    ptext(let, lx, 14, 19, color="#222222", family="Noto Sans")

# ---------- E ----------
xa, ya = axes(5, (49, 219), (239, 409), [-2.125, 0], [0, 100], [.01, .1, 1], [0, 20, 40, 60, 80, 100], box=True, xtype="log",
              xtext=["10<sup>-2</sup>", "10<sup>-1</sup>", "10<sup>0</sup>"])
for v, e, col in ((E_lb, E_lb_err, "#2b63b8"), (E_cu, E_cu_err, "#e8202e")):
    fig.add_trace(go.Scatter(x=E_conc, y=v, xaxis=xa, yaxis=ya, mode="lines+markers", cliponaxis=False,
                             line=dict(color=col, width=1.6), marker=dict(size=3, color="#5a2a35"),
                             error_y=dict(type="data", array=e, color="#3a3040", thickness=1, width=1.5)))
for y, col, t in ((251, "#2b63b8", "LB"), (262, "#e8202e", "LB + 200µm CuCl2")):
    shapes.append(dict(type="line", xref="paper", yref="paper", x0=123 / W, x1=137 / W, y0=1 - y / H, y1=1 - y / H, line=dict(color=col, width=2)))
    ptext(t, 138, y, 8, anchor="left", color="#444444")
ptext("Relative growth-rate (%)", 21, 337, 10.5, angle=-90)
ptext("Concentraion (µg/ml)", 134, 435, 10.5)
ptext("E", 20, 238, 19, color="#222222", family="Noto Sans")

# ---------- F ----------
xa, ya = axes(6, (303, 476), (239, 411), [0, 1500], [-5, 10], [0, 500, 1000, 1500], [-5, 0, 5, 10])
fig.add_trace(go.Scatter(x=F_rank, y=F_z, xaxis=xa, yaxis=ya, mode="lines+markers", cliponaxis=False,
                         line=dict(color="#1e1e1e", width=4.5), marker=dict(color="#333333", size=4.5)))
dots(list(zip(F_top_rank, F_top_z)), xa, ya, "#3f51a8", 5.5, 1, "#666666", .5)
for t, x, y in F_left:
    dtext(t, xa, ya, x, y, 9.5, "#333333", "right")
for t, y in zip(F_list, F_list_y):
    dtext(t, xa, ya, 1441, y, 9.5, "#ee3b52" if t == "Paraquat" else "#333333", "left")
seg(xa, ya, 1441, 7.26, 1366, 6.0, "#5566bb")
seg(xa, ya, 1360, 3.97, 1412, -.31, "#5566bb")
ptext("2-Isopropylmaleate Z-scores", 282, 324, 10.5, angle=-90)
ptext("Drugs", 381, 435, 10.5)
ptext("F", 273, 238, 19, color="#222222", family="Noto Sans")

# ---------- G ----------
xa, ya = axes(7, (579, 752), (245, 418), [-2, 4], [0, 12], [-2, 0, 2, 4], [0, 2, 4, 6, 8, 10, 12])
dots(G_blue, xa, ya, "#6f97d6", 5, .8)
dots(expand(G_core), xa, ya, "#3b6cb9", 5.5, .85)
dots(G_red, xa, ya, "#cd4a60", 5)
for x0, y0, x1, y1 in G_leaders:
    seg(xa, ya, x0, y0, x1, y1, "#333333", .6)
for t, x, y, an in G_labels:
    dtext(t, xa, ya, x, y, 6.3, "#4a4a4a", an)
for t, x, y, an in G_bold:
    dtext(t, xa, ya, x, y, 8, "#ee2436", an, True)
ptext("P-value (-log<sub>10</sub>)", 557, 350, 11, angle=-90)
ptext("Mean Z-score", 664, 441, 11)
ptext("G", 552, 239, 19, color="#222222", family="Noto Sans")

# ---------- H ----------
BLUE, RED, GREEN, BLACK = "#2f3fa5", "#e8212e", "#55b82e", "#1c1c1c"
xa, ya = axes(8, (191, 364), (472, 644), [0, 24], [-3, 3], [0, 5, 10, 15, 20], [-3, -2, -1, 0, 1, 2, 3], box=True)
curve(T_high, WT_high, xa, ya, BLUE, 2.5)
curve(T_wt_low, WT_low, xa, ya, BLUE, 2.5, "3px,1px", True)
curve(T_high, KAT_high, xa, ya, BLACK, 2.5)
curve(T_kat_low, KAT_low, xa, ya, BLACK, 2.5, "3px,1px", True)
for y, col, t in ((626, BLUE, "Wild-type"), (635, BLACK, "ΔkatG")):
    shapes.append(dict(type="line", xref="paper", yref="paper", x0=313 / W, x1=322 / W, y0=1 - y / H, y1=1 - y / H, line=dict(color=col, width=2.5)))
    ptext(t, 323, y, 7.5, anchor="left", color="#444444")
ptext("OD<sub>600</sub> (log<sub>2</sub>)", 171, 565, 10.5, angle=-90)
ptext("Time (h)", 277, 668, 10.5)
ptext("H", 163, 469, 19, color="#222222", family="Noto Sans")

# ---------- I ----------
xa, ya = axes(9, (459, 632), (472, 644), [0, 24], [-3, 3], [0, 5, 10, 15, 20], [-3, -2, -1, 0, 1, 2, 3], box=True)
curve(T_high, WT_high, xa, ya, BLUE, 4)
curve(T_wt_low, WT_low, xa, ya, BLUE, 3, "5px,2px", True)
curve(T_red_high, RCS_high, xa, ya, RED, 4)
curve(T_red_low, RCS_low, xa, ya, RED, 3, "5px,2px", True)
curve(T_green_high, OVER_high, xa, ya, GREEN, 2.5)
curve(T_green_low, OVER_low, xa, ya, GREEN, 3, "6px,2px", True)
for y, col, t in ((612, BLUE, "Wild-type"), (621.5, RED, "ΔrcsB"), (632, GREEN, "rcsB<sup>++</sup>")):
    shapes.append(dict(type="line", xref="paper", yref="paper", x0=582 / W, x1=590 / W, y0=1 - y / H, y1=1 - y / H, line=dict(color=col, width=2.5)))
    ptext(t, 592, y, 7.5, anchor="left", color="#444444")
ptext("OD<sub>600</sub> (log<sub>2</sub>)", 440, 565, 10.5, angle=-90)
ptext("Time (h)", 546, 668, 10.5)
ptext("I", 420, 467, 19, color="#222222", family="Noto Sans")

# ---------- J / K ----------
OPEN_FILL, OPEN_LINE = "#efe8ea", "#626262"
PURPLE, YELLOW, ORANGE = "#b24aa6", "#f3e63c", "#e8a336"
def meta(xa, ya, open_pts, mass, over, purple, yellow, orange, labels, line_end):
    dots(expand(mass) + open_pts, xa, ya, OPEN_FILL, 5.4, 1, OPEN_LINE, .8)
    dots(over, xa, ya, OPEN_FILL, 5.4, 1, OPEN_LINE, .8)
    dots(yellow, xa, ya, YELLOW, 5, 1, "#444444", .6)
    dots(orange, xa, ya, ORANGE, 5, 1, "#444444", .6)
    dots(purple, xa, ya, PURPLE, 5, 1, "#444444", .6)
    fig.add_trace(go.Scatter(x=[-6, line_end], y=[-6, line_end], xaxis=xa, yaxis=ya, mode="lines", cliponaxis=False,
                             line=dict(color="#f0868c", width=1, dash="4px,2px")))
    for t, x, y in labels:
        dtext(t, xa, ya, x, y, 7, "#4a4a4a")

xa, ya = axes(10, (38, 380), (722, 1064), [-6, 14], [-6, 10], list(range(-6, 15, 2)), list(range(-6, 11, 2)))
meta(xa, ya, J_open, J_mass, J_over, J_purple, J_yellow, J_orange, J_labels, 10.7)
J_key_x, J_key_y = [-5.45, -5.45], [9.67, 9.1]
fig.add_trace(go.Scatter(x=J_key_x, y=J_key_y, xaxis=xa, yaxis=ya, mode="markers",
                         marker=dict(color=["#d993d2", "#f7f081"], size=10)))
dtext("Branched chain amino acids metabolism", xa, ya, -5.13, 9.67, 9.2, "#444444", "left")
dtext("TCA cycle", xa, ya, -5.13, 9.1, 9.2, "#444444", "left")
ptext("Clioquinol  (Z-score)", 16, 868, 11, angle=-90)
ptext("Chloroxine (Z-score)", 232, 1088, 11)
ptext("J", 9, 702, 19, color="#222222", family="Noto Sans")

xa, ya = axes(11, (438, 779), (719, 1061), [-6, 14], [-6, 8], list(range(-6, 15, 2)), list(range(-6, 9, 2)))
meta(xa, ya, K_open, K_mass, K_over, K_purple, K_yellow, K_orange, K_labels, 6)
ptext("Paraquat (Z-score)", 417, 856, 11, angle=-90)
ptext("Chloroxine (Z-score)", 631, 1084, 11)
ptext("K", 412, 702, 19, color="#222222", family="Noto Sans")

layout["annotations"] = anns
layout["shapes"] = shapes
fig.update_layout(**layout)
fig.write_html("out.html", config={"displayModeBar": False}, post_script="document.body.style.margin='0';")
